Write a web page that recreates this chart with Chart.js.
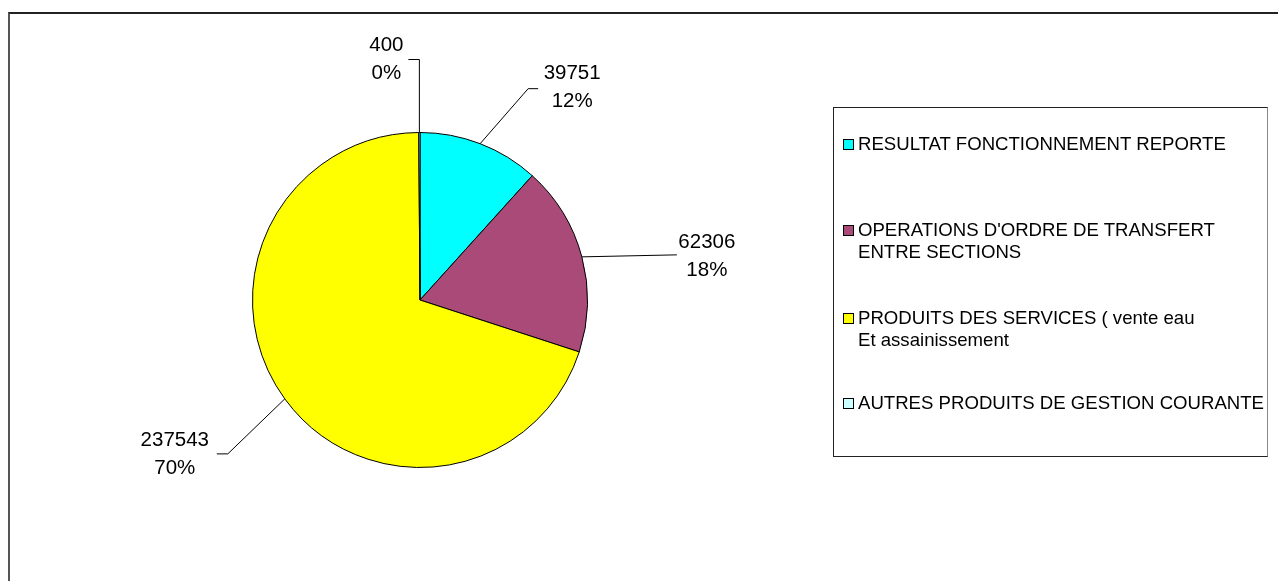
<!DOCTYPE html>
<html>
<head>
<meta charset="utf-8">
<script src="https://cdn.jsdelivr.net/npm/chart.js@4/dist/chart.umd.min.js"></script>
<style>
    body { margin: 0; background: #fff; overflow: hidden; }
    #wrap { position: relative; width: 1278px; height: 581px; }
    #frame {
        position: absolute; left: 8px; top: 12px; width: 1300px; height: 600px;
        border-top: 2px solid #222; border-left: 2px solid #555;
    }
    canvas { position: absolute; left: 0; top: 0; }
    #legend {
        position: absolute; left: 833px; top: 107px; width: 433px; height: 348px;
        border: 1px solid #222; border-right-color: #888;
        font-family: "Liberation Sans", Arial, sans-serif; font-size: 18.6px; color: #000;
    }
    .item { position: absolute; left: 9px; line-height: 22px; }
    .box {
        position: absolute; left: 0; top: 6px; width: 9px; height: 9px;
        border: 1px solid #000;
    }
    .txt { margin-left: 15px; white-space: pre; }
</style>
</head>
<body>
<div id="wrap">
    <div id="frame"></div>
    <canvas id="pieChart" width="1278" height="581"></canvas>
    <div id="legend"></div>
</div>
<script>
// Data
const categories = [
    'RESULTAT FONCTIONNEMENT REPORTE',
    "OPERATIONS D'ORDRE DE TRANSFERT\nENTRE SECTIONS",
    'PRODUITS DES SERVICES ( vente eau\nEt assainissement',
    'AUTRES PRODUITS DE GESTION COURANTE'
];
const amounts = [39751, 62306, 237543, 400];
const percentLabels = ['12%', '18%', '70%', '0%'];
const sliceColors = ['#00FFFF', '#AA4A78', '#FFFF00', '#CCFFFF'];

// leader line placement, relative to the point on the slice edge
const leaderStyle = [
    { elbow: [48, -55], tail: 10, text: [92, -70] },
    { elbow: [95, -2], tail: 0, text: [125, -15] },
    { elbow: [-57, 55], tail: -11, text: [-110, 41] },
    { elbow: [0, -73], tail: -11, text: [-33, -87] }
];

// Legend
const legendTops = [25, 111, 199, 284];
const legend = document.getElementById('legend');
categories.forEach((cat, i) => {
    const item = document.createElement('div');
    item.className = 'item';
    item.style.top = legendTops[i] + 'px';
    item.innerHTML = '<div class="box" style="background:' + sliceColors[i] + '"></div>' +
        '<div class="txt"></div>';
    item.querySelector('.txt').textContent = cat;
    legend.appendChild(item);
});

// Data labels with leader lines
const leaderLabels = {
    id: 'leaderLabels',
    afterDatasetsDraw(chart) {
        const ctx = chart.ctx;
        const arcs = chart.getDatasetMeta(0).data;
        ctx.save();
        ctx.font = '20.5px "Liberation Sans", Arial, sans-serif';
        ctx.fillStyle = '#000';
        ctx.strokeStyle = '#000';
        ctx.lineWidth = 1;
        ctx.textAlign = 'center';
        ctx.textBaseline = 'middle';
        arcs.forEach((arc, i) => {
            const mid = (arc.startAngle + arc.endAngle) / 2;
            const ex = arc.x + Math.cos(mid) * arc.outerRadius;
            const ey = arc.y + Math.sin(mid) * arc.outerRadius;
            const s = leaderStyle[i];
            const bx = ex + s.elbow[0];
            const by = ey + s.elbow[1];
            ctx.beginPath();
            ctx.moveTo(ex, ey);
            ctx.lineTo(bx, by);
            if (s.tail) ctx.lineTo(bx + s.tail, by);
            ctx.stroke();
            const tx = ex + s.text[0];
            const ty = ey + s.text[1];
            ctx.fillText(String(amounts[i]), tx, ty);
            ctx.fillText(percentLabels[i], tx, ty + 28);
        });
        ctx.restore();
    }
};

new Chart(document.getElementById('pieChart').getContext('2d'), {
    type: 'pie',
    data: {
        labels: categories,
        datasets: [{
            data: amounts,
            backgroundColor: sliceColors,
            borderColor: '#000',
            borderWidth: 1
        }]
    },
    options: {
        responsive: false,
        animation: false,
        layout: { padding: { left: 252, top: 132, right: 690, bottom: 113 } },
        plugins: {
            legend: { display: false },
            tooltip: { enabled: false }
        }
    },
    plugins: [leaderLabels]
});
</script>
</body>
</html>
